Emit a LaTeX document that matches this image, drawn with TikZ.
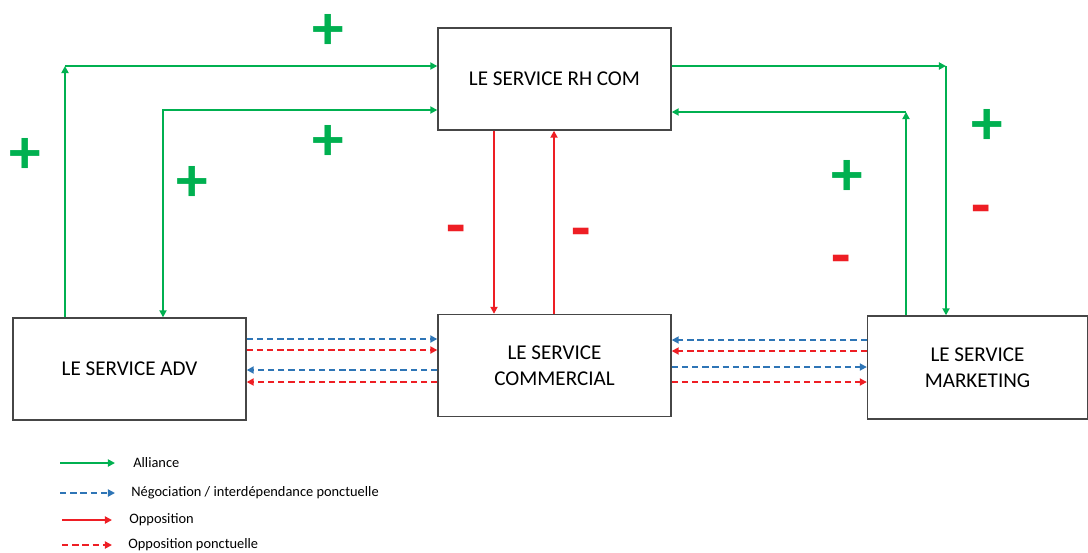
\documentclass[tikz,border=0pt]{standalone}
\usepackage{fontspec}
\setmainfont{Carlito}
\usepackage{xcolor}
\usetikzlibrary{arrows.meta,positioning}
\definecolor{allgreen}{RGB}{0,176,80}
\definecolor{negoblue}{RGB}{46,117,182}
\definecolor{oppred}{RGB}{238,30,36}
\definecolor{boxgray}{RGB}{70,70,70}

\begin{document}
\begin{tikzpicture}[x=0.02cm,y=-0.02cm,
	>={Triangle[length=4pt,width=4pt]},
	alliance/.style={allgreen,line width=1.2pt,->},
	nego/.style={negoblue,line width=1.3pt,dash pattern=on 3.6pt off 2.2pt,->},
	oppo/.style={oppred,line width=1.1pt,->},
	oppodash/.style={oppred,line width=1.3pt,dash pattern=on 3.6pt off 2.2pt,->},
	plus/.style={allgreen,inner sep=0pt,font=\fontsize{36}{36}\selectfont\bfseries},
	minus/.style={oppred,inner sep=0pt,font=\fontsize{36}{36}\selectfont\bfseries},
	legend/.style={right,inner sep=0pt,font=\fontsize{8.2}{10}\selectfont}]
	\useasboundingbox (0,0) rectangle (1088,552);
	\begin{scope}[every node/.style={draw=boxgray,line width=0.8pt,align=center,
			font=\fontsize{12}{15}\selectfont,minimum width=4.66cm,minimum height=2.04cm}]
		\node (rh) at (554.5,79) {LE SERVICE RH COM};
		\node (adv) at (129.5,369) {LE SERVICE ADV};
		\node (com) at (554.5,365.5) {LE SERVICE\\COMMERCIAL};
		\node[minimum width=4.4cm,minimum height=2.06cm] (mkt) at (977.5,367.5) {LE SERVICE\\MARKETING};
	\end{scope}
	% alliances
	\coordinate (c1) at (65,66);
	\coordinate (c2) at (163,110);
	\coordinate (c3) at (946,66);
	\coordinate (c4) at (906,112);
	\draw[alliance] (c1 |- adv.north) -- (c1);
	\draw[alliance] (c1) -- (c1 -| rh.west);
	\draw[alliance,<->] (c2 |- adv.north) -- (c2) -- (c2 -| rh.west);
	\draw[alliance] (c3 -| rh.east) -- (c3);
	\draw[alliance] (c3) -- (c3 |- mkt.north);
	\draw[alliance] (c4 |- mkt.north) -- (c4);
	\draw[alliance] (c4) -- (c4 -| rh.east);
	% oppositions
	\draw[oppo] (rh.south -| 494,0) -- (com.north -| 494,0);
	\draw[oppo] (com.north -| 554,0) -- (rh.south -| 554,0);
	% ponctuel
	\draw[nego] (adv.east |- 0,339) -- (com.west |- 0,339);
	\draw[oppodash] (adv.east |- 0,350) -- (com.west |- 0,350);
	\draw[nego] (com.west |- 0,370) -- (adv.east |- 0,370);
	\draw[oppodash] (com.west |- 0,382) -- (adv.east |- 0,382);
	\draw[nego] (mkt.west |- 0,340) -- (com.east |- 0,340);
	\draw[oppodash] (mkt.west |- 0,351) -- (com.east |- 0,351);
	\draw[nego] (com.east |- 0,367) -- (mkt.west |- 0,367);
	\draw[oppodash] (com.east |- 0,382) -- (mkt.west |- 0,382);
	% signes
	\node[plus] (p1) at (328,32) {+};
	\node[plus] (p2) at (25,156) {+};
	\node[plus] (p3) at (328,143) {+};
	\node[plus] (p4) at (192,184) {+};
	\node[plus] (p5) at (987,127) {+};
	\node[plus] (p6) at (847,178) {+};
	\node[minus] (m1) at (456,236) {-};
	\node[minus] (m2) at (581,239) {-};
	\node[minus] (m3) at (981,216) {-};
	\node[minus] (m4) at (841,266) {-};
	% legende
	\node[legend] (l1) at (133,463) {Alliance};
	\node[legend] (l2) at (131,493) {Négociation / interdépendance ponctuelle};
	\node[legend] (l3) at (129,520) {Opposition};
	\node[legend] (l4) at (128,545) {Opposition ponctuelle};
	\coordinate (k1) at (60,463);
	\coordinate (k2) at (60,493);
	\coordinate (k3) at (62,520);
	\coordinate (k4) at (62,545);
	\draw[alliance] (k1) -- ++(55,0);
	\draw[nego] (k2) -- ++(55,0);
	\draw[oppo] (k3) -- ++(50,0);
	\draw[oppodash] (k4) -- ++(50,0);
\end{tikzpicture}
\end{document}
